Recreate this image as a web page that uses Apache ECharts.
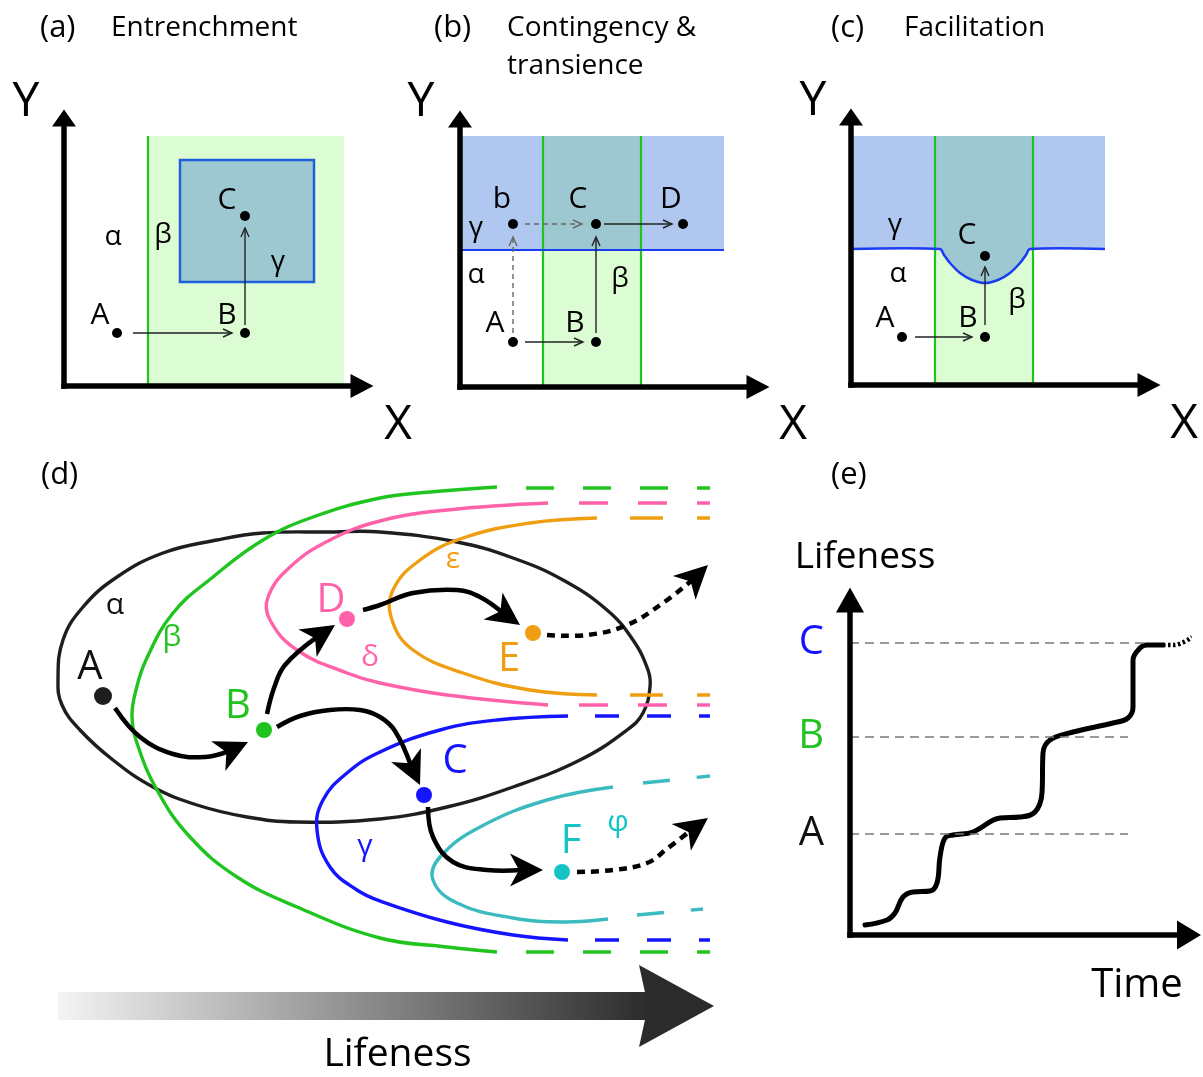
<!DOCTYPE html>
<html><head><meta charset="utf-8">
<script src="https://cdn.jsdelivr.net/npm/echarts@6/dist/echarts.min.js"></script>
<style>html,body{margin:0;padding:0;background:#fff}#main{width:1203px;height:1077px}</style>
</head><body><div id="main"></div>
<script>
// ================= DATA (diagram units) =================
// ---- Panel (a) Entrenchment ----
const aGreenRegion = [8.4, 0, 28.0, 25.0];            // x0,y0,x1,y1
const aBlueBox = [11.6, 10.4, 25.0, 22.6];
const aPoints = [[5.3, 5.3], [18.1, 5.3], [18.1, 17.0]]; // A B C
const aArrows = [[[6.9, 5.3], [16.8, 5.3]], [[18.1, 6.1], [18.1, 15.8]]];
const aLabels = [['A', 3.6, 7.1], ['B', 16.3, 7.1], ['C', 16.3, 18.6], ['α', 4.9, 14.9], ['β', 9.9, 15.1], ['γ', 21.4, 12.4]];
const aAxisNames = [['Y', -3.8, 28.4], ['X', 33.4, -3.9]];

// ---- Panel (b) Contingency & transience ----
const bBlueRegion = [0, 13.7, 26.4, 25.1];
const bGreenBand = [8.3, 0, 18.1, 25.1];
const bPoints = [[5.3, 4.5], [13.6, 4.5], [5.3, 16.3], [13.6, 16.3], [22.3, 16.3]]; // A B b C D
const bArrowsSolid = [[[6.5, 4.5], [12.3, 4.5]], [[13.6, 5.4], [13.6, 15.0]], [[14.4, 16.3], [21.2, 16.3]]];
const bArrowsDashed = [[[5.3, 5.4], [5.3, 15.0]], [[6.5, 16.3], [12.2, 16.3]]];
const bLabels = [['b', 4.2, 18.8], ['C', 11.8, 18.8], ['D', 21.1, 18.8], ['γ', 1.6, 15.9], ['α', 1.6, 11.2], ['β', 16.0, 10.8], ['A', 3.5, 6.4], ['B', 11.5, 6.4]];
const bAxisNames = [['Y', -3.9, 28.5], ['X', 33.3, -3.8]];

// ---- Panel (c) Facilitation ----
const cBlueRegion = [0, 13.6, 25.4, 24.9];
const cGreenBand = [8.4, 0, 18.2, 24.9];
const cBoundary = [[0, 13.6], [8.9, 13.6], [9.3, 13.0], [9.9, 12.2], [10.9, 11.2], [12.1, 10.5], [13.4, 10.2], [14.7, 10.5], [15.9, 11.2], [16.9, 12.2], [17.5, 13.0], [17.9, 13.6], [25.4, 13.6]];
const cPoints = [[5.1, 4.8], [13.4, 4.8], [13.4, 12.9]]; // A B C
const cArrows = [[[6.4, 4.8], [12.1, 4.8]], [[13.4, 6.0], [13.4, 11.8]]];
const cLabels = [['γ', 4.4, 16.0], ['C', 11.6, 15.0], ['α', 4.7, 11.1], ['A', 3.4, 6.7], ['B', 11.7, 6.7], ['β', 16.6, 8.5]];
const cAxisNames = [['Y', -3.8, 28.4], ['X', 33.3, -3.9]];

// ---- Panel (d) landscape ----
const dAlpha = [[1.8, 28.0], [2.3, 32.0], [4.3, 35.3], [7.7, 38.3], [12.3, 40.7], [17.7, 42.0], [22.3, 42.7], [29.0, 42.8], [34.0, 42.8], [41.7, 41.8], [47.3, 40.2], [52.3, 38.0], [56.7, 35.0], [59.3, 32.0], [60.8, 29.0], [61.0, 27.3], [60.3, 24.7], [58.7, 23.0], [54.0, 20.0], [47.3, 17.3], [40.7, 15.3], [34.0, 14.1], [25.7, 13.8], [20.7, 14.3], [15.7, 15.5], [11.3, 17.3], [7.3, 20.0], [4.0, 23.0], [2.2, 25.5]];
const dBeta = [[45.7, 47.3], [39.0, 46.8], [34.0, 46.2], [27.3, 44.3], [22.3, 42.0], [17.3, 38.3], [13.3, 34.7], [10.6, 30.0], [9.6, 27.0], [9.2, 24.5], [9.6, 22.0], [11.7, 17.0], [15.0, 12.3], [19.7, 8.3], [25.7, 5.3], [34.0, 2.2], [40.7, 1.3], [45.7, 0.8]];
const dDelta = [[50.8, 45.7], [40.7, 45.0], [34.0, 43.9], [29.0, 42.0], [25.0, 39.3], [22.8, 36.3], [23.0, 34.0], [25.7, 31.0], [30.7, 28.7], [34.0, 27.7], [40.7, 26.5], [50.8, 25.5]];
const dEpsilon = [[55.7, 44.2], [49.0, 43.7], [42.3, 42.2], [38.0, 40.0], [35.3, 37.0], [35.2, 34.0], [37.3, 31.0], [42.3, 28.7], [49.0, 27.0], [55.7, 26.5]];
const dGamma = [[52.8, 24.4], [45.7, 24.0], [40.0, 23.0], [34.0, 20.8], [30.7, 18.7], [28.3, 16.0], [27.7, 13.0], [29.0, 9.3], [31.7, 7.0], [34.0, 5.9], [40.7, 3.8], [47.3, 2.5], [52.8, 2.0]];
const dPhi = [[57.3, 17.3], [50.7, 16.0], [44.0, 13.3], [40.0, 10.3], [39.3, 8.0], [41.7, 5.7], [47.3, 4.2], [52.3, 3.8], [56.8, 4.1]];
const dBetaDash = [[[48.6, 47.2], [67.0, 47.2]], [[48.6, 0.8], [67.0, 0.8]]];
const dDeltaDash = [[[53.9, 45.7], [67.0, 45.7]], [[53.9, 25.5], [67.0, 25.5]]];
const dEpsilonDash = [[[59.0, 44.2], [67.0, 44.2]], [[59.0, 26.5], [67.0, 26.5]]];
const dGammaDash = [[[55.5, 24.4], [67.0, 24.4]], [[55.5, 2.0], [67.0, 2.0]]];
const dPhiDash = [[[60.3, 17.7], [67.0, 18.4]], [[59.7, 4.5], [66.3, 5.1]]];
const dArrowsSolid = [
  [[7.5, 25.2], [10.0, 22.3], [13.3, 20.6], [16.5, 20.3], [18.5, 20.7], [20.8, 21.8]],            // A -> B
  [[22.7, 24.6], [23.4, 27.2], [24.5, 29.5], [26.5, 31.5], [29.5, 33.5]],                          // B -> D
  [[32.3, 35.0], [34.0, 35.5], [37.3, 36.7], [41.7, 37.0], [44.0, 36.3], [45.3, 35.4], [48.0, 33.5]], // D -> E
  [[23.7, 23.3], [26.0, 24.4], [29.0, 25.0], [32.0, 25.0], [34.0, 24.3], [35.5, 22.9], [36.6, 20.5], [38.0, 17.5]], // B -> C
  [[38.8, 15.3], [39.3, 12.3], [41.3, 9.8], [44.7, 9.0], [47.0, 9.0], [50.3, 9.0]]                // C -> F
];
const dArrowsDotted = [
  [[50.7, 32.5], [54.7, 32.5], [58.7, 33.5], [62.3, 35.7], [64.5, 37.3], [66.8, 39.5]],
  [[53.7, 8.8], [57.3, 9.0], [60.7, 9.7], [62.8, 11.2], [64.3, 12.4], [66.8, 14.2]]
];
const dDots = [['A', 6.3, 26.4], ['B', 22.4, 23.0], ['D', 30.7, 34.1], ['E', 49.3, 32.7], ['C', 38.4, 16.5], ['F', 52.2, 8.8]];
const dLabels = [['A', 5.0, 29.2], ['B', 19.8, 25.3], ['D', 29.1, 35.9], ['E', 46.9, 30.0], ['C', 41.5, 19.8], ['F', 53.1, 11.8],
                 ['α', 7.5, 35.5], ['β', 13.2, 32.3], ['δ', 33.0, 30.3], ['ε', 41.3, 40.1], ['γ', 32.5, 11.4], ['φ', 57.8, 13.8]];
const dLifenessBar = [1.8, -3.2, 61.0, -6.0];
const dLifenessHead = [[59.9, -0.5], [67.4, -4.6], [59.9, -8.7], [60.8, -4.6]];
const dLifenessText = [['Lifeness', 35.75, -9.5]];

// ---- Panel (e) Lifeness vs time ----
const eCurve = [[1.5, 1.0], [3.7, 1.5], [4.5, 2.2], [5.3, 3.8], [6.3, 4.3], [8.0, 4.4], [8.7, 5.2], [9.0, 7.8], [9.5, 9.7], [10.3, 10.0], [12.3, 10.3], [15.0, 11.7], [17.0, 11.8], [18.5, 12.3], [19.2, 14.2], [19.3, 18.2], [20.0, 19.5], [22.3, 20.3], [26.3, 21.2], [27.8, 21.7], [28.3, 22.8], [28.3, 27.5], [29.0, 28.7], [29.7, 29.0], [31.3, 29.0]];
const eTail = [[31.3, 29.0], [32.4, 29.0], [34.2, 29.8]];
const eLevelNames = ['A', 'B', 'C'];
const eLevels = [10.1, 19.8, 29.2];
const eLevelEnds = [27.8, 27.8, 29.7];
const eText = [['Lifeness', 1.5, 37.8], ['Time', 28.7, -5.1]];

// ================= STYLES =================
const FONT = "'Open Sans','Noto Sans',sans-serif";
const COL = {
  ink: '#000', green: '#1fc41f', pink: '#ff62a8', orange: '#ef9e12', blue: '#1414ff',
  cyanLine: '#3bbbbf', cyan: '#14c4c4', lightGreen: '#dcfdd3', teal: '#9ec8d1',
  lightBlue: '#b0c8f0', boxEdge: '#1f5fdc', blueLine: '#1a3cf2', gray: '#666'
};
const dColor = { 'A': '#111', 'α': '#111', 'B': COL.green, 'β': COL.green, 'D': COL.pink, 'δ': COL.pink,
  'E': COL.orange, 'ε': COL.orange, 'C': COL.blue, 'γ': COL.blue, 'F': COL.cyan, 'φ': COL.cyan };
const eColor = { 'A': '#111', 'B': '#22c322', 'C': COL.blue };
const GREEK = /[α-ω]/;

// ================= HELPERS =================
function textEl(api, t, color, latin, greek) {
  const p = api.coord([t[1], t[2]]);
  const g = GREEK.test(t[0]);
  return { type: 'text', x: p[0], y: p[1], style: { text: t[0], fill: color, fontSize: g ? greek : latin,
    fontFamily: FONT, align: 'center', verticalAlign: 'middle' } };
}
function rectEl(api, r, style) {
  const p0 = api.coord([r[0], r[1]]), p1 = api.coord([r[2], r[3]]);
  return { type: 'rect', shape: { x: Math.min(p0[0], p1[0]), y: Math.min(p0[1], p1[1]),
    width: Math.abs(p1[0] - p0[0]), height: Math.abs(p1[1] - p0[1]) }, style };
}
function polyEl(api, pts, style, closed, smooth) {
  return { type: closed ? 'polygon' : 'polyline', shape: { points: pts.map(p => api.coord(p)), smooth: smooth || 0 }, style };
}
function segEl(api, seg, style) {
  const a = api.coord(seg[0]), b = api.coord(seg[1]);
  return { type: 'line', shape: { x1: a[0], y1: a[1], x2: b[0], y2: b[1] }, style };
}
function thinArrow(api, seg, color, dashed) {
  const a = api.coord(seg[0]), b = api.coord(seg[1]);
  const dx = b[0] - a[0], dy = b[1] - a[1], L = Math.hypot(dx, dy) || 1, ux = dx / L, uy = dy / L;
  const h = 9, w = 4, bx = b[0] - ux * h, by = b[1] - uy * h;
  return { type: 'group', children: [
    { type: 'line', shape: { x1: a[0], y1: a[1], x2: b[0], y2: b[1] }, style: { stroke: color, lineWidth: 1.4, lineDash: dashed ? [5, 4] : null } },
    { type: 'polyline', shape: { points: [[bx - uy * w, by + ux * w], [b[0], b[1]], [bx + uy * w, by - ux * w]] }, style: { stroke: color, lineWidth: 1.4, fill: null } }
  ] };
}
function thickArrow(api, pts, dotted) {
  const P = pts.map(p => api.coord(p));
  const n = P.length, tip = P[n - 1], back = P[n - 2];
  const dx = tip[0] - back[0], dy = tip[1] - back[1], L = Math.hypot(dx, dy) || 1, ux = dx / L, uy = dy / L;
  const len = 33, hw = 16.5, notch = 9;
  const bx = tip[0] - ux * len, by = tip[1] - uy * len, nx = bx + ux * notch, ny = by + uy * notch;
  const shaft = P.slice(0, n - 2).concat([[nx + ux * 3, ny + uy * 3]]);
  return { type: 'group', children: [
    { type: 'polyline', shape: { points: shaft, smooth: 0.4 }, style: { stroke: '#000', lineWidth: 4.5, fill: null, lineDash: dotted ? [8, 6] : null } },
    { type: 'polygon', shape: { points: [[tip[0], tip[1]], [bx - uy * hw, by + ux * hw], [nx, ny], [bx + uy * hw, by - ux * hw]] }, style: { fill: '#000' } }
  ] };
}
function layer(gi, makers) {
  return { type: 'custom', xAxisIndex: gi, yAxisIndex: gi, clip: false, silent: true,
    data: makers.map(() => [0, 0]), renderItem: (params, api) => makers[params.dataIndex](api) };
}
function dots(gi, pts, color, size) {
  return { type: 'scatter', xAxisIndex: gi, yAxisIndex: gi, silent: true, clip: false, symbolSize: size,
    itemStyle: { color: color, opacity: 1 }, data: pts };
}
const vEdges = band => [[[band[0], band[1]], [band[0], band[3]]], [[band[2], band[1]], [band[2], band[3]]]];

// ================= SERIES =================
const layerA = layer(0, [
  api => rectEl(api, aGreenRegion, { fill: COL.lightGreen }),
  api => segEl(api, vEdges(aGreenRegion)[0], { stroke: COL.green, lineWidth: 2.2 }),
  api => rectEl(api, aBlueBox, { fill: COL.teal, stroke: COL.boxEdge, lineWidth: 2.5 }),
  ...aArrows.map(s => api => thinArrow(api, s, '#222', false)),
  ...aLabels.map(t => api => textEl(api, t, COL.ink, 30, 28)),
  ...aAxisNames.map(t => api => textEl(api, t, COL.ink, 48, 48))
]);
const bOverlap = [bGreenBand[0], bBlueRegion[1], bGreenBand[2], bBlueRegion[3]];
const layerB = layer(1, [
  api => rectEl(api, bBlueRegion, { fill: COL.lightBlue }),
  api => rectEl(api, bGreenBand, { fill: COL.lightGreen }),
  api => rectEl(api, bOverlap, { fill: COL.teal }),
  ...vEdges(bGreenBand).map(s => api => segEl(api, s, { stroke: COL.green, lineWidth: 2.2 })),
  api => segEl(api, [[bBlueRegion[0], bBlueRegion[1]], [bBlueRegion[2], bBlueRegion[1]]], { stroke: COL.blueLine, lineWidth: 2.2 }),
  ...bArrowsDashed.map(s => api => thinArrow(api, s, COL.gray, true)),
  ...bArrowsSolid.map(s => api => thinArrow(api, s, '#222', false)),
  ...bLabels.map(t => api => textEl(api, t, COL.ink, 30, 28)),
  ...bAxisNames.map(t => api => textEl(api, t, COL.ink, 48, 48))
]);
const cTeal = [[cGreenBand[0], cGreenBand[3]], [cGreenBand[0], cBlueRegion[1]]]
  .concat(cBoundary.filter(p => p[0] > cGreenBand[0] && p[0] < cGreenBand[2]))
  .concat([[cGreenBand[2], cBlueRegion[1]], [cGreenBand[2], cGreenBand[3]]]);
const layerC = layer(2, [
  api => rectEl(api, cBlueRegion, { fill: COL.lightBlue }),
  api => rectEl(api, cGreenBand, { fill: COL.lightGreen }),
  api => polyEl(api, cTeal, { fill: COL.teal }, true, 0),
  ...vEdges(cGreenBand).map(s => api => segEl(api, s, { stroke: COL.green, lineWidth: 2.2 })),
  api => polyEl(api, cBoundary, { stroke: COL.blueLine, lineWidth: 2.5, fill: null }, false, 0.3),
  ...cArrows.map(s => api => thinArrow(api, s, '#222', false)),
  ...cLabels.map(t => api => textEl(api, t, COL.ink, 30, 28)),
  ...cAxisNames.map(t => api => textEl(api, t, COL.ink, 48, 48))
]);
const curveStyle = c => ({ stroke: c, lineWidth: 3.4, fill: null });
const dashStyle = (c, d) => ({ stroke: c, lineWidth: 3.4, lineDash: d });
const SM = 0.42;
const layerD = layer(3, [
  api => polyEl(api, dAlpha, curveStyle('#1e1e1e'), true, SM),
  api => polyEl(api, dBeta, curveStyle(COL.green), false, SM),
  api => polyEl(api, dDelta, curveStyle(COL.pink), false, SM),
  api => polyEl(api, dEpsilon, curveStyle(COL.orange), false, SM),
  api => polyEl(api, dGamma, curveStyle(COL.blue), false, SM),
  api => polyEl(api, dPhi, curveStyle(COL.cyanLine), false, SM),
  ...dBetaDash.map(s => api => segEl(api, s, dashStyle(COL.green, [28, 29]))),
  ...dDeltaDash.map(s => api => segEl(api, s, dashStyle(COL.pink, [29, 30]))),
  ...dEpsilonDash.map(s => api => segEl(api, s, dashStyle(COL.orange, [33, 34]))),
  ...dGammaDash.map(s => api => segEl(api, s, dashStyle(COL.blue, [24, 28]))),
  ...dPhiDash.map(s => api => segEl(api, s, dashStyle(COL.cyanLine, [27, 27]))),
  ...dArrowsSolid.map(p => api => thickArrow(api, p, false)),
  ...dArrowsDotted.map(p => api => thickArrow(api, p, true)),
  api => rectEl(api, dLifenessBar, { fill: { type: 'linear', x: 0, y: 0, x2: 1, y2: 0,
    colorStops: [{ offset: 0, color: '#f4f4f4' }, { offset: 1, color: '#2b2b2b' }] } }),
  api => polyEl(api, dLifenessHead, { fill: '#2b2b2b' }, true, 0),
  ...dLabels.map(t => api => textEl(api, t, dColor[t[0]], 40, 30)),
  ...dLifenessText.map(t => api => textEl(api, t, COL.ink, 39, 39))
]);
const dDotSeries = {
  type: 'scatter', xAxisIndex: 3, yAxisIndex: 3, silent: true, clip: false, symbolSize: 16,
  data: dDots.map(d => ({ value: [d[1], d[2]], symbolSize: d[0] === 'A' ? 18 : 16,
    itemStyle: { opacity: 1, color: d[0] === 'F' ? COL.cyan : (d[0] === 'A' ? '#1e1e1e' : dColor[d[0]]) } }))
};
const layerE = layer(4, eText.map(t => api => textEl(api, t, COL.ink, t[0] === 'Time' ? 40 : 37, 37)));
const eCurveSeries = {
  type: 'line', xAxisIndex: 4, yAxisIndex: 4, data: eCurve, smooth: 0.4, symbol: 'none', silent: true,
  lineStyle: { color: '#000', width: 5, cap: 'round', join: 'round' },
  markLine: { silent: true, symbol: 'none', label: { show: false },
    lineStyle: { color: '#7a7a7a', width: 1.5, type: [9, 6] },
    data: eLevels.map((v, i) => [{ coord: [0, v] }, { coord: [eLevelEnds[i], v] }]) }
};
const eTailSeries = {
  type: 'line', xAxisIndex: 4, yAxisIndex: 4, data: eTail, smooth: 0.4, symbol: 'none', silent: true,
  lineStyle: { color: '#000', width: 4.5, type: [2.5, 2.5] }
};

// ================= AXES / LAYOUT =================
function arrowAxis(gi, max, sym) {
  return { gridIndex: gi, type: 'value', min: 0, max: max, z: 10,
    axisLine: { show: true, onZero: false, symbol: ['none', 'triangle'], symbolSize: sym,
      lineStyle: { color: '#000', width: 5.5, cap: 'square' } },
    axisTick: { show: false }, axisLabel: { show: false }, splitLine: { show: false } };
}
const eY = arrowAxis(4, 33.5, [28, 25]);
eY.axisLabel = { show: true, customValues: eLevels, margin: 26,
  formatter: v => { let k = 0; eLevels.forEach((l, i) => { if (Math.abs(l - v) < Math.abs(eLevels[k] - v)) k = i; }); return '{' + eLevelNames[k] + '|' + eLevelNames[k] + '}'; },
  rich: { A: { color: eColor.A, fontSize: 40, fontFamily: FONT }, B: { color: eColor.B, fontSize: 40, fontFamily: FONT }, C: { color: eColor.C, fontSize: 40, fontFamily: FONT } } };

const titleStyle = { fontFamily: FONT, fontSize: 28, fontWeight: 'normal', color: '#000', lineHeight: 38 };
const markStyle = { fontFamily: FONT, fontSize: 31, fontWeight: 'normal', color: '#000', lineHeight: 38 };
const titles = [['(a)', 40, 9, markStyle], ['Entrenchment', 111, 9, titleStyle], ['(b)', 434, 9, markStyle], ['Contingency &\ntransience', 507, 9, titleStyle],
  ['(c)', 831, 9, markStyle], ['Facilitation', 904, 9, titleStyle], ['(d)', 41, 456, markStyle], ['(e)', 831, 456, markStyle]];

const option = {
  animation: false,
  backgroundColor: '#fff',
  title: titles.map(t => ({ text: t[0], left: t[1], top: t[2], padding: 0, textStyle: t[3] })),
  grid: [
    { left: 64, top: 118, width: 298, height: 268 },
    { left: 460, top: 119, width: 298, height: 268 },
    { left: 851, top: 117, width: 298, height: 268 },
    { left: 40, top: 480, width: 700, height: 480 },
    { left: 850, top: 600, width: 339, height: 335 }
  ],
  xAxis: [arrowAxis(0, 29.8, [24, 23]), arrowAxis(1, 29.8, [24, 23]), arrowAxis(2, 29.8, [24, 23]),
    { gridIndex: 3, type: 'value', min: 0, max: 70, show: false }, arrowAxis(4, 33.9, [29, 24])],
  yAxis: [arrowAxis(0, 26.8, [24, 17]), arrowAxis(1, 26.8, [24, 17]), arrowAxis(2, 26.8, [24, 17]),
    { gridIndex: 3, type: 'value', min: 0, max: 48, show: false }, eY],
  series: [
    layerA, layerB, layerC, layerD, layerE, eCurveSeries, eTailSeries,
    dots(0, aPoints, '#000', 10), dots(1, bPoints, '#000', 10), dots(2, cPoints, '#000', 10), dDotSeries
  ]
};
const chart = echarts.init(document.getElementById('main'), null, { renderer: 'canvas' });
chart.setOption(option);
</script>
</body></html>
